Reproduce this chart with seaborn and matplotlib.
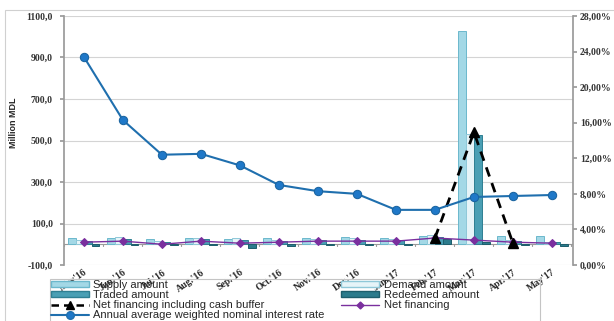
import numpy as np
import pandas as pd
import matplotlib
matplotlib.use("Agg")
import matplotlib.pyplot as plt
import matplotlib.transforms as mtransforms
from matplotlib.lines import Line2D
from matplotlib.patches import Patch, Rectangle
from matplotlib.ticker import FuncFormatter
import seaborn as sns

# Monthly auction results, million MDL, and average interest rate, %
months = ["May'16", "Jun.'16", "Jul.'16", "Aug.'16", "Sep.'16", "Oct.'16", "Nov.'16",
          "Dec.'16", "Jan.'17", "Feb.'17", "Mar.'17", "Apr.'17", "May'17"]
supply = [30, 30, 25, 30, 25, 30, 30, 35, 30, 40, 1030, 40, 40]
demand = [20, 35, 15, 30, 30, 20, 25, 30, 25, 45, 530, 20, 10]
traded = [15, 25, 10, 25, 20, 15, 20, 20, 20, 35, 525, 15, 10]
redeemed = [-8, -5, -5, -5, -18, -10, -5, -5, -5, 25, 10, -5, -8]
net_financing = [10, 15, 0, 15, 5, 10, 15, 15, 15, 30, 20, 10, 5]
net_with_buffer = [np.nan] * 9 + [30, 540, 5, np.nan]
interest_rate = [23.4, 16.3, 12.4, 12.5, 11.2, 9.0, 8.3, 8.0, 6.2, 6.2, 7.65, 7.76, 7.87]

series_names = ["Supply amount", "Demand amount", "Traded amount", "Redeemed amount"]
fills = {"Supply amount": "#a3d8e6", "Demand amount": "#e6f4f8",
         "Traded amount": "#4a9fb4", "Redeemed amount": "#2b7b8c"}
edges = {"Supply amount": "#6bb8cc", "Demand amount": "#8fc8d8",
         "Traded amount": "#2f7f92", "Redeemed amount": "#1d5e6c"}

bars = pd.DataFrame({
    "month": np.tile(months, 4),
    "series": np.repeat(series_names, len(months)),
    "value": supply + demand + traded + redeemed,
})
pos = np.arange(len(months))

sns.set_theme(style="white")
tick_font = {"family": "Liberation Serif", "weight": "bold", "size": 7}

fig = plt.figure(figsize=(6.14, 3.21), dpi=100)
ax = fig.add_axes([64 / 614, 1 - 265 / 321, (573 - 64) / 614, (265 - 16) / 321])

sns.barplot(data=bars, x="month", y="value", hue="series", order=months,
            hue_order=series_names, palette=fills, saturation=1, width=0.8,
            legend=False, ax=ax, zorder=2)
for name, cont in zip(series_names, ax.containers):
    for p in cont:
        p.set_edgecolor(edges[name])
        p.set_linewidth(0.7)

# category axis crossing at zero
ax.axhline(0, color="#9a9a9a", lw=0.8, zorder=1)
for b in np.arange(-0.5, len(months)):
    ax.plot([b, b], [0, -7], color="#9a9a9a", lw=0.8, zorder=1)

sns.lineplot(x=pos, y=net_financing, ax=ax, color="#7a2f9e", lw=1.0,
             marker="D", markersize=4, markeredgecolor="#7a2f9e", zorder=4)
ax.plot(pos, net_with_buffer, color="black", lw=2.0, ls=(0, (3.5, 2.5)),
        marker="^", markersize=7, zorder=5)

ax.set_xlim(-0.51, 12.54)
ax.set_ylim(-100, 1100)
ax.set_yticks(np.arange(-100, 1101, 200))
ax.yaxis.set_major_formatter(FuncFormatter(lambda v, _: f"{v:.1f}".replace(".", ",")))
ax.yaxis.grid(True, color="#d4d4d4", lw=0.8)
ax.set_axisbelow(True)
ax.set_xlabel("")
ax.set_ylabel("Million MDL", fontsize=6.5, fontweight="bold", family="Liberation Sans")
ax.yaxis.set_label_coords(-0.09, 0.57)

ax.set_xticks(pos)
ax.set_xticklabels(months, rotation=35, ha="right", va="top",
                   rotation_mode="anchor", fontdict=tick_font)
shift = mtransforms.ScaledTranslation(4 / 100, 0, fig.dpi_scale_trans)
for lab in ax.get_xticklabels():
    lab.set_transform(lab.get_transform() + shift)
ax.tick_params(axis="x", length=0, pad=2)
ax.tick_params(axis="y", left=True, length=3, color="#9a9a9a", pad=5)
for lab in ax.get_yticklabels():
    lab.set_fontproperties(tick_font)
    lab.set_color("#333333")
for s in ["top", "bottom", "right"]:
    ax.spines[s].set_visible(False)
ax.spines["left"].set_color("#9a9a9a")

# interest rate on secondary axis
ax2 = ax.twinx()
sns.lineplot(x=pos, y=interest_rate, ax=ax2, color="#1f6fae", lw=1.5,
             marker="o", markersize=6, markerfacecolor="#1f78c8",
             markeredgecolor="#1a64a0", zorder=6)
ax2.set_ylim(0, 28)
ax2.set_yticks(np.arange(0, 29, 4))
ax2.yaxis.set_major_formatter(FuncFormatter(lambda v, _: f"{v:.2f}%".replace(".", ",")))
ax2.tick_params(axis="y", right=True, length=3, color="#9a9a9a", pad=2)
for lab in ax2.get_yticklabels():
    lab.set_fontproperties(tick_font)
    lab.set_color("#333333")
for s in ["top", "bottom", "left"]:
    ax2.spines[s].set_visible(False)
ax2.spines["right"].set_color("#9a9a9a")
ax2.set_ylabel("")

# legend below the plot
handles = [
    Patch(facecolor=fills["Supply amount"], edgecolor=edges["Supply amount"]),
    Patch(facecolor=fills["Traded amount"], edgecolor=edges["Traded amount"]),
    Line2D([], [], color="black", lw=1.8, ls=(0, (3, 2)), marker="^", markersize=6),
    Line2D([], [], color="#1f6fae", lw=1.5, marker="o", markersize=5.5,
           markerfacecolor="#1f78c8"),
    Patch(facecolor=fills["Demand amount"], edgecolor=edges["Demand amount"]),
    Patch(facecolor=fills["Redeemed amount"], edgecolor=edges["Redeemed amount"]),
    Line2D([], [], color="#7a2f9e", lw=1.0, marker="D", markersize=3.5),
]
labels = ["Supply amount", "Traded amount", "Net financing including cash buffer",
          "Annual average weighted nominal interest rate",
          "Demand amount", "Redeemed amount", "Net financing"]
fig.legend(handles, labels, ncol=2, loc="upper left",
           bbox_to_anchor=(50 / 614, 1 - 279 / 321), frameon=False,
           prop={"family": "Liberation Sans", "size": 8.0},
           handlelength=3.4, handleheight=0.42, handletextpad=0.4,
           columnspacing=1.5, labelspacing=0.0, borderpad=0.1, borderaxespad=0)

fig.patches.append(Rectangle((50 / 614, -0.05), 490 / 614, 1 - 279 / 321 + 0.05,
                             transform=fig.transFigure, fill=False,
                             edgecolor="#c4c4c4", lw=0.8))
fig.patches.append(Rectangle((5 / 614, -0.1), 1.1, 1 - 10 / 321 + 0.1,
                             transform=fig.transFigure, fill=False,
                             edgecolor="#d0d0d0", lw=0.8))

fig.savefig("out.png", dpi=100)
